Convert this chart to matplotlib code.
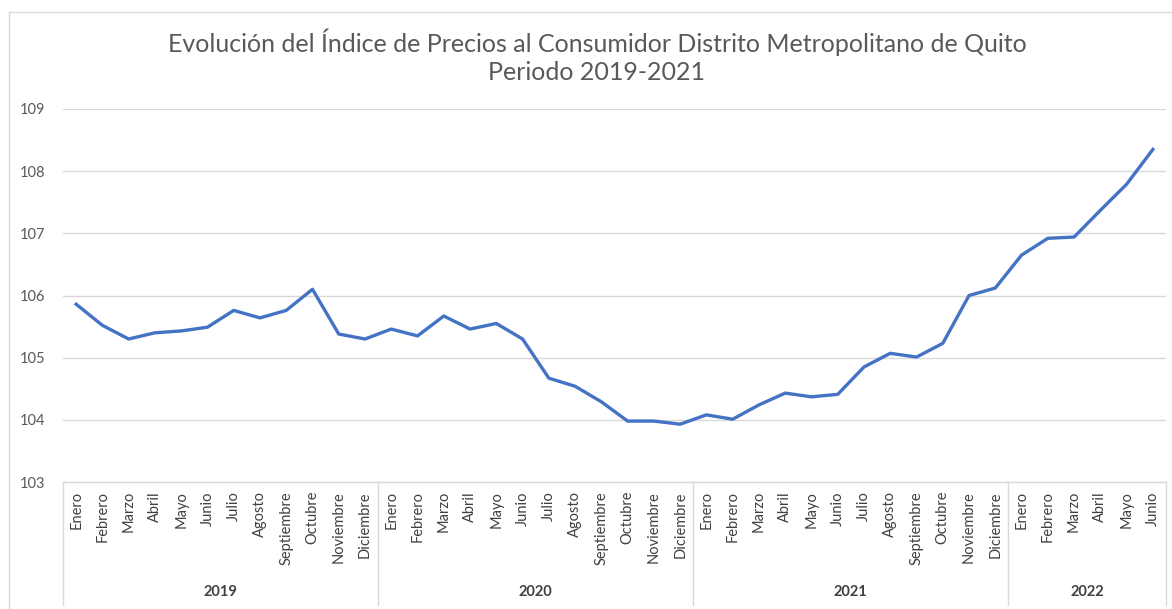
import matplotlib
matplotlib.use("Agg")
import matplotlib.pyplot as plt
import matplotlib.transforms as mtransforms
from matplotlib.lines import Line2D

plt.rcParams["font.family"] = ["Lato", "DejaVu Sans"]

meses = ["Enero", "Febrero", "Marzo", "Abril", "Mayo", "Junio", "Julio", "Agosto",
         "Septiembre", "Octubre", "Noviembre", "Diciembre"]
anios = ["2019", "2020", "2021", "2022"]
meses_por_anio = [12, 12, 12, 6]

ipc_2019 = [105.86, 105.52, 105.30, 105.40, 105.43, 105.49, 105.76, 105.64, 105.76, 106.10, 105.38, 105.30]
ipc_2020 = [105.46, 105.35, 105.67, 105.46, 105.55, 105.30, 104.67, 104.54, 104.29, 103.98, 103.98, 103.93]
ipc_2021 = [104.08, 104.01, 104.24, 104.43, 104.37, 104.41, 104.85, 105.07, 105.01, 105.23, 106.00, 106.12]
ipc_2022 = [106.65, 106.92, 106.94, 107.37, 107.79, 108.35]

valores = ipc_2019 + ipc_2020 + ipc_2021 + ipc_2022
etiquetas = []
for n in meses_por_anio:
    etiquetas += meses[:n]
x = list(range(len(valores)))

W, H = 1172, 609
fig = plt.figure(figsize=(W / 100, H / 100), dpi=100)
ax = fig.add_axes([63 / W, (H - 482) / H, (1166 - 63) / W, (482 - 109) / H])

ax.plot(x, valores, color="#4472C4", linewidth=2.4, solid_joinstyle="round")

ax.set_xlim(-0.5, len(valores) - 0.5)
ax.set_ylim(103, 109)
ax.set_yticks(range(103, 110))
ax.grid(axis="y", color="#d9d9d9", linewidth=1)
ax.set_axisbelow(True)
for s in ["top", "right", "left"]:
    ax.spines[s].set_visible(False)
ax.spines["bottom"].set_color("#d9d9d9")
ax.spines["bottom"].set_linewidth(1)
ax.tick_params(axis="y", length=0, pad=13, labelsize=10.5, labelcolor="#595959")
ax.set_xticks([])

# etiquetas de meses
trans = mtransforms.blended_transform_factory(ax.transData, fig.transFigure)
for i, lab in enumerate(etiquetas):
    ax.text(i, (H - 491) / H, lab, transform=trans, rotation=90, ha="center", va="top",
            fontsize=10.5, color="#404040")

# anios y separadores
inicio = -0.5
bordes = [inicio]
for anio, n in zip(anios, meses_por_anio):
    fin = inicio + n
    ax.text((inicio + fin) / 2, (H - 592) / H, anio, transform=trans, ha="center", va="center",
            fontsize=10.5, color="#404040", fontweight="bold")
    bordes.append(fin)
    inicio = fin
for b in bordes:
    fig.add_artist(Line2D([b, b], [(H - 482) / H, (H - 605) / H], transform=trans,
                          color="#d9d9d9", linewidth=1))

# borde del grafico
fig.add_artist(Line2D([9 / W, 9 / W], [0, (H - 12) / H], color="#d9d9d9", linewidth=1))
fig.add_artist(Line2D([9 / W, 1], [(H - 12) / H, (H - 12) / H], color="#d9d9d9", linewidth=1))

fig.text(597 / W, (H - 42) / H, "Evolución del Índice de Precios al Consumidor Distrito Metropolitano de Quito",
         ha="center", va="center", fontsize=18, color="#595959")
fig.text(597 / W, (H - 73) / H, "Periodo 2019-2021", ha="center", va="center", fontsize=18, color="#595959")

fig.savefig("out.png", dpi=100)
